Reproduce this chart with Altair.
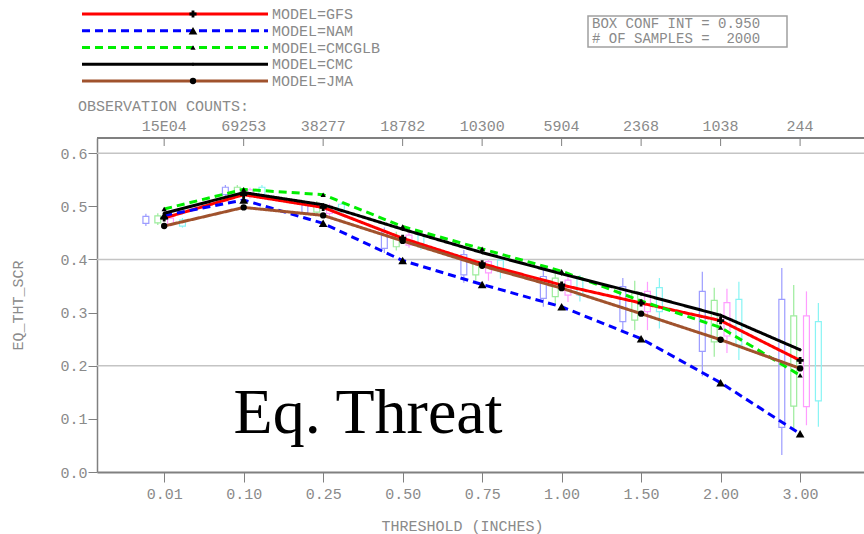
import altair as alt
import pandas as pd

# ---- data -------------------------------------------------------------
thresholds = ["0.01", "0.10", "0.25", "0.50", "0.75", "1.00", "1.50", "2.00", "3.00"]
obs_counts = ["15E04", "69253", "38277", "18782", "10300", "5904", "2368", "1038", "244"]
idx = list(range(1, 10))

models = ["GFS", "NAM", "CMCGLB", "CMC", "JMA"]
gfs = [0.478, 0.522, 0.498, 0.440, 0.392, 0.352, 0.318, 0.285, 0.210]
nam = [0.483, 0.512, 0.468, 0.398, 0.353, 0.311, 0.251, 0.168, 0.072]
cmcglb = [0.495, 0.532, 0.522, 0.462, 0.420, 0.378, 0.322, 0.272, 0.182]
cmc = [0.487, 0.526, 0.503, 0.457, 0.413, 0.373, 0.335, 0.295, 0.230]
jma = [0.463, 0.498, 0.483, 0.435, 0.388, 0.346, 0.298, 0.249, 0.195]
scores = {"GFS": gfs, "NAM": nam, "CMCGLB": cmcglb, "CMC": cmc, "JMA": jma}

# bootstrap boxes: whisker low, box low, box high, whisker high
blue_wlo = [0.463, 0.518, 0.484, 0.412, 0.356, 0.311, 0.267, 0.180, 0.032]
blue_blo = [0.468, 0.522, 0.488, 0.421, 0.371, 0.327, 0.283, 0.227, 0.084]
blue_bhi = [0.481, 0.536, 0.505, 0.452, 0.409, 0.368, 0.349, 0.340, 0.325]
blue_whi = [0.486, 0.540, 0.510, 0.460, 0.418, 0.380, 0.365, 0.377, 0.384]

green_wlo = [0.465, 0.520, 0.485, 0.417, 0.360, 0.315, 0.267, 0.217, 0.079]
green_blo = [0.469, 0.524, 0.489, 0.424, 0.371, 0.330, 0.286, 0.245, 0.124]
green_bhi = [0.482, 0.536, 0.505, 0.443, 0.396, 0.365, 0.337, 0.323, 0.294]
green_whi = [0.487, 0.540, 0.510, 0.452, 0.400, 0.375, 0.360, 0.347, 0.352]

pink_wlo = [0.462, 0.515, 0.482, 0.422, 0.360, 0.320, 0.267, 0.224, 0.088]
pink_blo = [0.466, 0.519, 0.487, 0.427, 0.375, 0.333, 0.302, 0.256, 0.123]
pink_bhi = [0.478, 0.531, 0.500, 0.446, 0.396, 0.361, 0.340, 0.319, 0.294]
pink_whi = [0.482, 0.535, 0.505, 0.452, 0.400, 0.373, 0.358, 0.345, 0.340]

cyan_wlo = [0.460, 0.518, 0.485, 0.418, 0.364, 0.321, 0.270, 0.211, 0.085]
cyan_blo = [0.463, 0.522, 0.490, 0.424, 0.377, 0.333, 0.302, 0.239, 0.134]
cyan_bhi = [0.474, 0.536, 0.504, 0.446, 0.399, 0.365, 0.347, 0.325, 0.283]
cyan_whi = [0.478, 0.540, 0.508, 0.452, 0.405, 0.371, 0.365, 0.358, 0.318]

conf_lines = ["BOX CONF INT = 0.950", "# OF SAMPLES =\u00a0\u00a02000"]

# ---- styling ----------------------------------------------------------
W, H = 767, 334
MONO = "Liberation Mono"
GREY_TXT = "#8a8a8a"
GREY_LINE = "#808080"

xs = alt.Scale(domain=[0.155, 9.804], nice=False, zero=False)
ys = alt.Scale(domain=[0, 0.6287], nice=False, zero=False)

line_style = {
    "GFS": dict(color="#ff0000", dash=[1, 0], shape="cross", size=50),
    "NAM": dict(color="#0000ff", dash=[8, 5], shape="triangle-up", size=75),
    "CMCGLB": dict(color="#00ee00", dash=[8, 5], shape="triangle-up", size=28),
    "CMC": dict(color="#000000", dash=[1, 0], shape="diamond", size=14),
    "JMA": dict(color="#a0522d", dash=[1, 0], shape="circle", size=40),
}

label_expr = "[" + ",".join(f"'{t}'" for t in thresholds) + "][datum.value - 1]"

x_axis = alt.Axis(
    values=idx, labelExpr=label_expr, tickSize=10, labelPadding=4,
    labelFont=MONO, labelFontSize=15, labelColor=GREY_TXT, labelFlush=False,
    labelOverlap=False, labelBaseline="top",
    domainColor=GREY_LINE, domainWidth=2, tickColor=GREY_LINE, tickWidth=1,
    grid=False, title="THRESHOLD (INCHES)", titleFont=MONO, titleFontSize=15,
    titleFontWeight="normal", titleColor=GREY_TXT, titleX=365, titleY=53,
    titleAlign="center", titleBaseline="middle",
)
y_axis = alt.Axis(
    values=[0, 0.1, 0.2, 0.3, 0.4, 0.5, 0.6], format=".1f", tickSize=9,
    labelPadding=1, labelFont=MONO, labelFontSize=15, labelColor=GREY_TXT,
    labelFlush=False, labelOverlap=False,
    domainColor=GREY_LINE, domainWidth=1.5, tickColor=GREY_LINE, tickWidth=1,
    grid=False, title="EQ_THT_SCR", titleFont=MONO, titleFontSize=15,
    titleFontWeight="normal", titleColor=GREY_TXT, titleX=-80, titleY=167,
    titleAngle=270, titleAlign="center", titleBaseline="middle",
)


def X(field):
    return alt.X(field, type="quantitative", scale=xs, axis=x_axis)


def Y(field):
    return alt.Y(field, type="quantitative", scale=ys, axis=y_axis)


layers = []

# horizontal grid lines at the major values
grid_df = pd.DataFrame({"v": [0.2, 0.4, 0.6], "idx": [1, 1, 1]})
layers.append(
    alt.Chart(grid_df).mark_rule(color="#c4c4c4", strokeWidth=1.5).encode(
        y=Y("v"), x=alt.value(0), x2=alt.value(W),
    )
)

# top frame with inward ticks
top_df = pd.DataFrame({"idx": idx, "count": obs_counts})
layers.append(
    alt.Chart(top_df).mark_rule(color=GREY_LINE, strokeWidth=1.5).encode(
        x=alt.value(0), x2=alt.value(W), y=alt.value(0)
    )
)
layers.append(
    alt.Chart(top_df).mark_rule(color=GREY_LINE, strokeWidth=1).encode(
        x=X("idx"), y=alt.value(0), y2=alt.value(8),
    )
)
# observation counts above each threshold
layers.append(
    alt.Chart(top_df).mark_text(font=MONO, fontSize=15, color=GREY_TXT,
                                baseline="middle", align="center").encode(
        x=X("idx"), y=alt.value(-12), text="count:N",
    )
)
layers.append(
    alt.Chart(pd.DataFrame({"t": ["OBSERVATION COUNTS:"]})).mark_text(
        font=MONO, fontSize=15, color=GREY_TXT, align="left", baseline="middle"
    ).encode(x=alt.value(-19), y=alt.value(-32), text="t:N")
)

# bootstrap confidence boxes
box_sets = [
    ("#9c9cff", -0.23, blue_wlo, blue_blo, blue_bhi, blue_whi),
    ("#9cec9c", -0.08, green_wlo, green_blo, green_bhi, green_whi),
    ("#ff9cff", 0.08, pink_wlo, pink_blo, pink_bhi, pink_whi),
    ("#88f4f4", 0.23, cyan_wlo, cyan_blo, cyan_bhi, cyan_whi),
]
half_w = 0.037
for color, off, wlo, blo, bhi, whi in box_sets:
    df = pd.DataFrame({"idx": idx, "wlo": wlo, "blo": blo, "bhi": bhi, "whi": whi})
    df["pos"] = df["idx"] + off
    df["left"] = df["pos"] - half_w
    df["right"] = df["pos"] + half_w
    base = alt.Chart(df)
    layers.append(base.mark_rule(color=color, strokeWidth=1.2).encode(
        x=X("pos"), y=Y("wlo"), y2="blo:Q"))
    layers.append(base.mark_rule(color=color, strokeWidth=1.2).encode(
        x=X("pos"), y=Y("bhi"), y2="whi:Q"))
    layers.append(base.mark_rect(fillOpacity=0, stroke=color, strokeWidth=1.2).encode(
        x=X("left"), x2="right:Q", y=Y("blo"), y2="bhi:Q"))

# model lines
for m in models:
    st = line_style[m]
    df = pd.DataFrame({"idx": idx, "score": scores[m]})
    layers.append(
        alt.Chart(df).mark_line(color=st["color"], strokeWidth=3,
                                strokeDash=st["dash"]).encode(
            x=X("idx"), y=Y("score"),
        )
    )
# markers on top
for m in models:
    st = line_style[m]
    df = pd.DataFrame({"idx": idx, "score": scores[m]})
    layers.append(
        alt.Chart(df).mark_point(shape=st["shape"], size=st["size"], filled=True,
                                 color="#000000", opacity=1).encode(
            x=X("idx"), y=Y("score"),
        )
    )

# legend block above the plot
for i, m in enumerate(models):
    st = line_style[m]
    yy = -124 + i * 16.75
    leg = alt.Chart(pd.DataFrame({"label": [f"MODEL={m}"]}))
    layers.append(leg.mark_rule(color=st["color"], strokeWidth=3,
                                strokeDash=st["dash"]).encode(
        x=alt.value(-15), x2=alt.value(171), y=alt.value(yy)))
    layers.append(leg.mark_point(shape=st["shape"], size=st["size"], filled=True,
                                 color="#000000", opacity=1).encode(
        x=alt.value(96), y=alt.value(yy)))
    layers.append(leg.mark_text(font=MONO, fontSize=15, color=GREY_TXT,
                                align="left", baseline="middle").encode(
        x=alt.value(175), y=alt.value(yy), text="label:N"))

# box with the bootstrap settings
conf_df = pd.DataFrame({"t": conf_lines, "row": [0, 1]})
layers.append(
    alt.Chart(conf_df.head(1)).mark_rect(fillOpacity=0, stroke="#a0a0a0",
                                         strokeWidth=1.5).encode(
        x=alt.value(491), x2=alt.value(690), y=alt.value(-122), y2=alt.value(-91))
)
for r, yy in [(0, -114.5), (1, -99.5)]:
    layers.append(
        alt.Chart(conf_df[conf_df["row"] == r]).mark_text(
            font=MONO, fontSize=14, color=GREY_TXT, align="left", baseline="middle"
        ).encode(x=alt.value(495), y=alt.value(yy), text="t:N")
    )

# big title annotation
layers.append(
    alt.Chart(pd.DataFrame({"t": ["Eq. Threat"]})).mark_text(
        font="Liberation Serif", fontSize=64, color="#000000",
        align="center", baseline="alphabetic"
    ).encode(x=alt.value(271), y=alt.value(295), text="t:N")
)

chart = alt.layer(*layers).properties(
    width=W, height=H,
    autosize=alt.AutoSizeParams(type="none"),
    padding={"left": 97, "top": 138, "right": 0, "bottom": 62},
    background="white",
).configure_view(stroke=None)

chart.save("out.html", embed_options={"renderer": "svg", "actions": False})
